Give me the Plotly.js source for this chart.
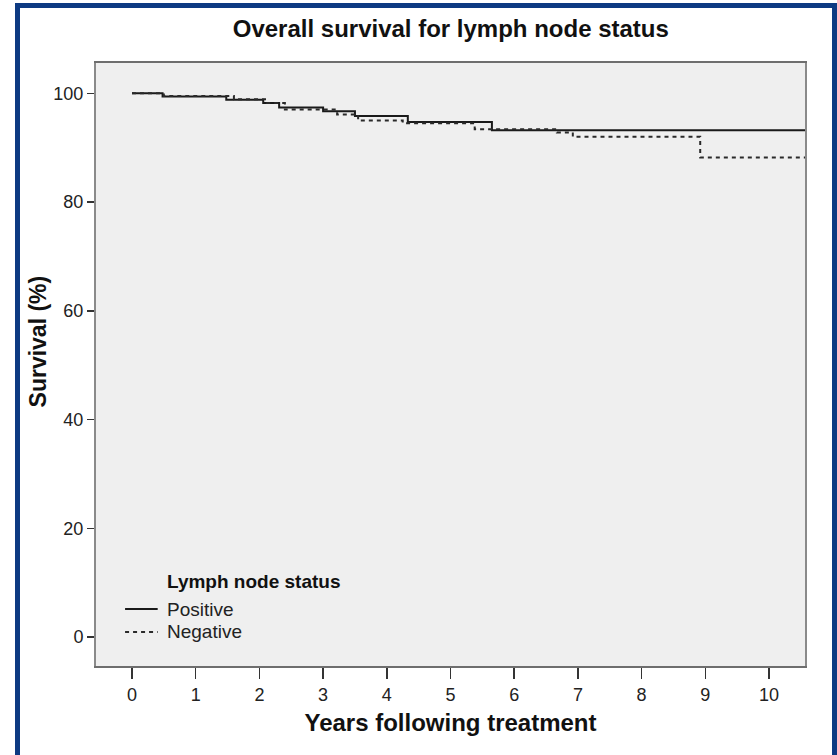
<!DOCTYPE html>
<html>
<head>
<meta charset="utf-8">
<script src="https://cdn.plot.ly/plotly-3.0.1.min.js"></script>
<style>
  html, body { margin: 0; padding: 0; background: #ffffff; }
  #wrap { position: relative; width: 837px; height: 755px; overflow: hidden; }
  #chart { position: absolute; left: 0; top: 0; width: 837px; height: 755px; }
  #frame {
    position: absolute; left: 15px; top: 3px; width: 812px; height: 770px;
    border: 5px solid #0d3a82; border-bottom: none; pointer-events: none;
  }
</style>
</head>
<body>
<div id="wrap">
  <div id="chart"></div>
  <div id="frame"></div>
</div>
<script>
// Kaplan-Meier step data: years after treatment vs. cumulative survival (%)
const positiveYears    = [0, 0.48, 1.48, 2.06, 2.31, 3.00, 3.50, 4.33, 5.65, 10.6];
const positiveSurvival = [100, 99.4, 98.8, 98.2, 97.4, 96.7, 95.8, 94.7, 93.2, 93.2];

const negativeYears    = [0, 0.50, 1.60, 2.12, 2.40, 3.22, 3.55, 4.25, 5.38, 6.67, 6.92, 8.92, 10.6];
const negativeSurvival = [100, 99.5, 98.9, 98.2, 97.0, 96.1, 95.0, 94.5, 93.4, 92.8, 92.0, 88.2, 88.2];

const seriesNames = ['Positive', 'Negative'];
const xTicks = [0, 1, 2, 3, 4, 5, 6, 7, 8, 9, 10];
const yTicks = [0, 20, 40, 60, 80, 100];

const FONT = 'Liberation Sans, Arial, sans-serif';
const DASH = '4px,4px';
const lineStyles = [
  { color: '#1a1a1a', width: 2, dash: 'solid' },
  { color: '#2a2a2a', width: 2, dash: DASH }
];

const traces = [
  {
    x: positiveYears, y: positiveSurvival, name: seriesNames[0],
    type: 'scatter', mode: 'lines', showlegend: false,
    line: Object.assign({ shape: 'hv' }, lineStyles[0])
  },
  {
    x: negativeYears, y: negativeSurvival, name: seriesNames[1],
    type: 'scatter', mode: 'lines', showlegend: false,
    line: Object.assign({ shape: 'hv' }, lineStyles[1])
  }
];

// Legend block in the lower-left corner of the plot area
const legendKeyX = [0.041, 0.087];
const legendTextX = 0.097;
const legendRowY = [0.0945, 0.0564];
const legendTitleY = 0.1395;

const legendShapes = seriesNames.map((name, i) => ({
  type: 'line', xref: 'paper', yref: 'paper',
  x0: legendKeyX[0], x1: legendKeyX[1], y0: legendRowY[i], y1: legendRowY[i],
  line: { color: lineStyles[i].color, width: 2, dash: lineStyles[i].dash }
}));

const legendLabels = seriesNames.map((name, i) => ({
  text: name, xref: 'paper', yref: 'paper',
  x: legendTextX, y: legendRowY[i], xanchor: 'left', yanchor: 'middle',
  showarrow: false, font: { family: FONT, size: 19, color: '#222222' }
}));

const layout = {
  width: 837, height: 755,
  margin: { l: 96, r: 32, t: 63, b: 89 },
  paper_bgcolor: '#ffffff',
  plot_bgcolor: '#efefef',
  font: { family: FONT, color: '#222222', size: 16 },
  showlegend: false,
  title: {
    text: '<b>Overall survival for lymph node status</b>',
    font: { family: FONT, size: 24, color: '#111111' },
    x: 0.5386, xanchor: 'center', y: 0.962, yanchor: 'middle'
  },
  xaxis: {
    range: [-0.565, 10.565],
    tickvals: xTicks,
    ticktext: xTicks.map(String),
    ticks: 'outside', ticklen: 11, tickwidth: 1.5, tickcolor: '#333333',
    showgrid: false, zeroline: false,
    showline: true, mirror: true, linecolor: '#6e6e6e', linewidth: 2,
    tickfont: { family: FONT, size: 18, color: '#222222' },
    title: {
      text: '<b>Years following treatment</b>',
      font: { family: FONT, size: 24, color: '#111111' },
      standoff: 11
    }
  },
  yaxis: {
    range: [-5.33, 105.57],
    tickvals: yTicks,
    ticktext: yTicks.map(String),
    ticks: 'outside', ticklen: 7, tickwidth: 1.5, tickcolor: '#333333',
    showgrid: false, zeroline: false,
    showline: true, mirror: true, linecolor: '#8a8a8a', linewidth: 2,
    tickfont: { family: FONT, size: 18, color: '#222222' }
  },
  shapes: legendShapes,
  annotations: [
    {
      text: '<b>Survival (%)</b>', textangle: -90,
      xref: 'paper', yref: 'paper', x: -0.082, y: 0.538,
      xanchor: 'center', yanchor: 'middle', showarrow: false,
      font: { family: FONT, size: 23, color: '#111111' }
    },
    {
      text: '<b>Lymph node status</b>',
      xref: 'paper', yref: 'paper', x: legendTextX, y: legendTitleY,
      xanchor: 'left', yanchor: 'middle', showarrow: false,
      font: { family: FONT, size: 19, color: '#111111' }
    }
  ].concat(legendLabels)
};

Plotly.newPlot('chart', traces, layout, { staticPlot: true, displayModeBar: false });
</script>
</body>
</html>
